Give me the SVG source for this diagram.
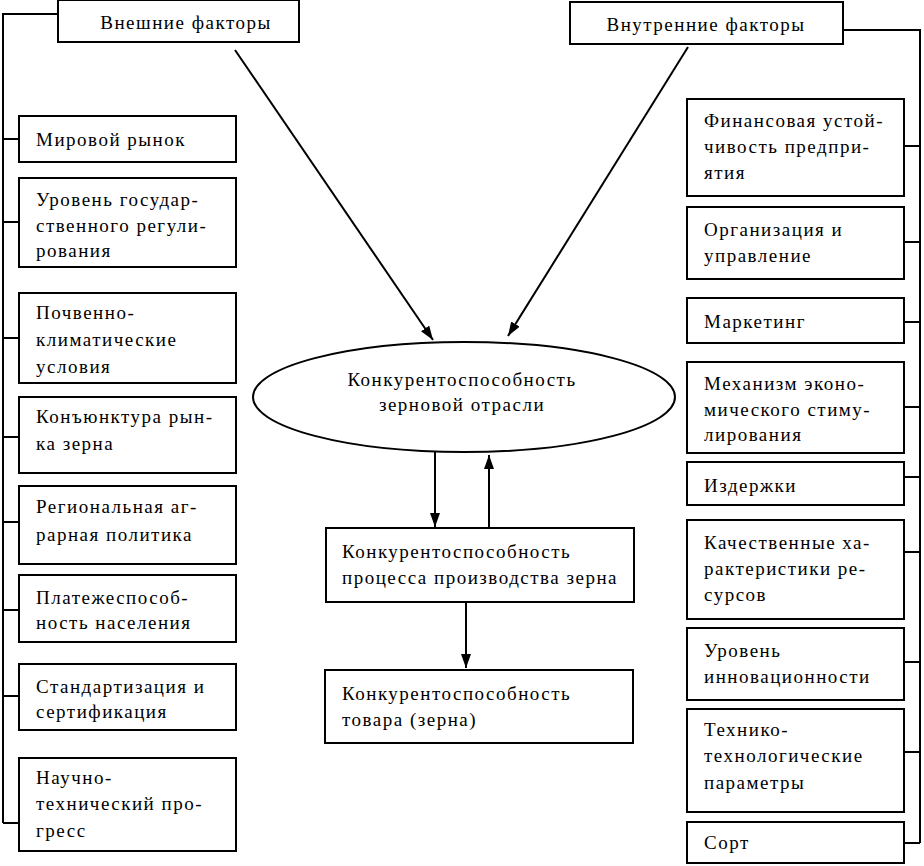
<svg xmlns="http://www.w3.org/2000/svg" width="924" height="866" viewBox="0 0 924 866">
<defs>
<style>
.b{fill:#fff;stroke:#000;stroke-width:2}
.t{font-family:'Liberation Serif','Times New Roman',serif;font-size:19px;letter-spacing:1.5px;fill:#000}
.c{text-anchor:middle}
.l{fill:none;stroke:#000;stroke-width:2}
</style>
<marker id="ah" viewBox="0 0 14 10" refX="14" refY="5" markerWidth="14" markerHeight="10" markerUnits="userSpaceOnUse" orient="auto">
<path d="M0,0 L14,5 L0,10 z" fill="#000"/>
</marker>
</defs>
<rect width="924" height="866" fill="#fff"/>
<g id="connectors">
<path class="l" d="M58,14 H3 V823"/>
<path class="l" d="M3,139 H19 M3,222 H19 M3,338 H19 M3,437 H19 M3,522 H19 M3,610 H19 M3,696 H19 M3,823 H19"/>
<path class="l" d="M843,30 H920 V843"/>
<path class="l" d="M904,146 H920 M904,242 H920 M904,322 H920 M904,407 H920 M904,477 H920 M904,552 H920 M904,662 H920 M904,752 H920 M904,843 H920"/>
<line class="l" x1="235" y1="50" x2="433" y2="340" marker-end="url(#ah)"/>
<line class="l" x1="688" y1="47" x2="508" y2="336" marker-end="url(#ah)"/>
<line class="l" x1="435" y1="452" x2="435" y2="527" marker-end="url(#ah)"/>
<line class="l" x1="489" y1="528" x2="489" y2="455" marker-end="url(#ah)"/>
<line class="l" x1="466" y1="602" x2="466" y2="668" marker-end="url(#ah)"/>
</g>
<g id="external">
<rect class="b" x="58" y="0" width="241" height="42"/>
<text class="t c" x="186" y="29">Внешние факторы</text>
</g>
<g id="internal">
<rect class="b" x="570" y="2" width="273" height="42"/>
<text class="t c" x="706" y="31">Внутренние факторы</text>
</g>
<g id="world-market">
<rect class="b" x="19" y="116" width="217" height="46"/>
<text class="t" x="36" y="146">Мировой рынок</text>
</g>
<g id="state-regulation">
<rect class="b" x="19" y="178" width="217" height="89"/>
<text class="t" x="36" y="206">Уровень государ-</text>
<text class="t" x="36" y="232">ственного регули-</text>
<text class="t" x="36" y="257">рования</text>
</g>
<g id="soil-climate">
<rect class="b" x="19" y="293" width="217" height="90"/>
<text class="t" x="36" y="319">Почвенно-</text>
<text class="t" x="36" y="346">климатические</text>
<text class="t" x="36" y="373">условия</text>
</g>
<g id="market-conditions">
<rect class="b" x="19" y="397" width="217" height="76"/>
<text class="t" x="36" y="423">Конъюнктура рын-</text>
<text class="t" x="36" y="450">ка зерна</text>
</g>
<g id="regional-policy">
<rect class="b" x="19" y="486" width="217" height="78"/>
<text class="t" x="36" y="513">Региональная аг-</text>
<text class="t" x="36" y="541">рарная политика</text>
</g>
<g id="solvency">
<rect class="b" x="19" y="575" width="217" height="67"/>
<text class="t" x="36" y="604">Платежеспособ-</text>
<text class="t" x="36" y="629">ность населения</text>
</g>
<g id="standardization">
<rect class="b" x="19" y="664" width="217" height="66"/>
<text class="t" x="36" y="693">Стандартизация и</text>
<text class="t" x="36" y="718">сертификация</text>
</g>
<g id="sci-tech-progress">
<rect class="b" x="19" y="758" width="217" height="93"/>
<text class="t" x="36" y="784">Научно-</text>
<text class="t" x="36" y="810">технический про-</text>
<text class="t" x="36" y="837">гресс</text>
</g>
<g id="financial-stability">
<rect class="b" x="687" y="99" width="217" height="97"/>
<text class="t" x="704" y="127">Финансовая устой-</text>
<text class="t" x="704" y="153">чивость предпри-</text>
<text class="t" x="704" y="179">ятия</text>
</g>
<g id="organization">
<rect class="b" x="687" y="207" width="217" height="72"/>
<text class="t" x="704" y="236">Организация и</text>
<text class="t" x="704" y="262">управление</text>
</g>
<g id="marketing">
<rect class="b" x="687" y="298" width="217" height="45"/>
<text class="t" x="704" y="328">Маркетинг</text>
</g>
<g id="stimulation">
<rect class="b" x="687" y="362" width="217" height="91"/>
<text class="t" x="704" y="390">Механизм эконо-</text>
<text class="t" x="704" y="416">мического стиму-</text>
<text class="t" x="704" y="441">лирования</text>
</g>
<g id="costs">
<rect class="b" x="687" y="462" width="217" height="43"/>
<text class="t" x="704" y="492">Издержки</text>
</g>
<g id="resource-quality">
<rect class="b" x="687" y="520" width="217" height="99"/>
<text class="t" x="704" y="549">Качественные ха-</text>
<text class="t" x="704" y="575">рактеристики ре-</text>
<text class="t" x="704" y="601">сурсов</text>
</g>
<g id="innovation">
<rect class="b" x="687" y="628" width="217" height="72"/>
<text class="t" x="704" y="657">Уровень</text>
<text class="t" x="704" y="683">инновационности</text>
</g>
<g id="tech-params">
<rect class="b" x="687" y="709" width="217" height="103"/>
<text class="t" x="704" y="736">Технико-</text>
<text class="t" x="704" y="762">технологические</text>
<text class="t" x="704" y="789">параметры</text>
</g>
<g id="variety">
<rect class="b" x="687" y="822" width="217" height="41"/>
<text class="t" x="704" y="849">Сорт</text>
</g>
<g id="industry">
<ellipse class="b" cx="464" cy="397" rx="211" ry="55"/>
<text class="t c" x="462" y="386">Конкурентоспособность</text>
<text class="t c" x="462" y="411">зерновой отрасли</text>
</g>
<g id="process">
<rect class="b" x="326" y="528" width="308" height="74"/>
<text class="t" x="342" y="558">Конкурентоспособность</text>
<text class="t" x="342" y="584">процесса производства зерна</text>
</g>
<g id="product">
<rect class="b" x="325" y="670" width="308" height="73"/>
<text class="t" x="342" y="700">Конкурентоспособность</text>
<text class="t" x="342" y="726">товара (зерна)</text>
</g>
</svg>
